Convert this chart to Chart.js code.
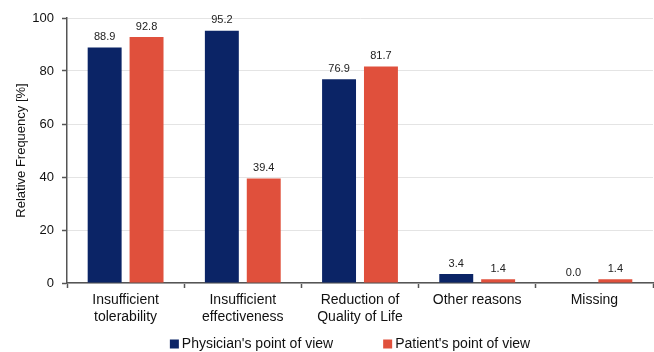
<!DOCTYPE html>
<html>
<head>
<meta charset="utf-8">
<script src="https://cdn.jsdelivr.net/npm/chart.js@4/dist/chart.umd.min.js"></script>
<style>
  html, body { margin: 0; padding: 0; background: #fff; }
  #wrap { width: 654px; height: 352px; position: relative; }
</style>
</head>
<body>
<div id="wrap"><canvas id="c" width="654" height="352"></canvas></div>
<script>
// Reasons for discontinuation, relative frequency in percent
const categories = [
  ["Insufficient", "tolerability"],
  ["Insufficient", "effectiveness"],
  ["Reduction of", "Quality of Life"],
  "Other reasons",
  "Missing"
];
const physicianValues = [88.9, 95.2, 76.9, 3.4, 0.0];
const patientValues   = [92.8, 39.4, 81.7, 1.4, 1.4];
const yTicks = [0, 20, 40, 60, 80, 100];

const NAVY = "#0b2466";
const RED  = "#e0503c";
const FONT = "'Liberation Sans', Arial, sans-serif";

// Value labels above every bar
const valueLabels = {
  id: "valueLabels",
  afterDatasetsDraw(chart) {
    const ctx = chart.ctx;
    ctx.save();
    ctx.font = "11px " + FONT;
    ctx.fillStyle = "#222";
    ctx.textAlign = "center";
    ctx.textBaseline = "bottom";
    chart.data.datasets.forEach((ds, i) => {
      const meta = chart.getDatasetMeta(i);
      meta.data.forEach((bar, j) => {
        ctx.fillText(ds.data[j].toFixed(1), bar.x, bar.y - 5);
      });
    });
    ctx.restore();
  }
};

// Legend row under the category labels, with a wide gap between entries
const bottomLegend = {
  id: "bottomLegend",
  afterDraw(chart) {
    const ctx = chart.ctx;
    const box = 9, gapText = 3, gapItems = 50;
    ctx.save();
    ctx.font = "14px " + FONT;
    ctx.textBaseline = "middle";
    ctx.textAlign = "left";
    const items = chart.data.datasets.map(ds => ({
      text: ds.label, color: ds.backgroundColor, w: ctx.measureText(ds.label).width
    }));
    const total = items.reduce((s, it) => s + box + gapText + it.w, 0) + gapItems * (items.length - 1);
    let x = 350 - total / 2;
    const y = chart.height - 8;
    items.forEach(it => {
      ctx.fillStyle = it.color;
      ctx.fillRect(x, y - box / 2, box, box);
      x += box + gapText;
      ctx.fillStyle = "#111";
      ctx.fillText(it.text, x, y + 0.5);
      x += it.w + gapItems;
    });
    ctx.restore();
  }
};

new Chart(document.getElementById("c"), {
  type: "bar",
  data: {
    labels: categories,
    datasets: [
      { label: "Physician's point of view", data: physicianValues, backgroundColor: NAVY,
        categoryPercentage: 0.715, barPercentage: 0.81 },
      { label: "Patient's point of view", data: patientValues, backgroundColor: RED,
        categoryPercentage: 0.715, barPercentage: 0.81 }
    ]
  },
  options: {
    responsive: false,
    animation: false,
    layout: { padding: { top: 18, right: 1, left: 0, bottom: 27 } },
    plugins: {
      tooltip: { enabled: false },
      legend: { display: false }
    },
    scales: {
      x: {
        grid: {
          offset: true,
          drawOnChartArea: false,
          drawTicks: true,
          tickLength: 5,
          tickColor: "#555",
          tickWidth: 1.5
        },
        border: { color: "#555", width: 1.5 },
        ticks: {
          font: { family: FONT, size: 14 },
          color: "#111",
          padding: 4,
          maxRotation: 0,
          autoSkip: false
        },
        afterFit(scale) { scale.height = 42; }
      },
      y: {
        min: 0,
        max: 100,
        afterBuildTicks(scale) { scale.ticks = yTicks.map(v => ({ value: v })); },
        grid: {
          color: "#e4e4e4",
          lineWidth: 1,
          drawTicks: true,
          tickLength: 5,
          tickColor: "#555",
          tickWidth: 1.5
        },
        border: { color: "#555", width: 1.5 },
        ticks: {
          font: { family: FONT, size: 13 },
          color: "#111",
          padding: 8
        },
        title: {
          display: true,
          text: "Relative Frequency [%]",
          font: { family: FONT, size: 13 },
          color: "#111",
          padding: { top: 14, bottom: 4 }
        },
        afterFit(scale) { scale.width = 67; }
      }
    }
  },
  plugins: [valueLabels, bottomLegend]
});
</script>
</body>
</html>
